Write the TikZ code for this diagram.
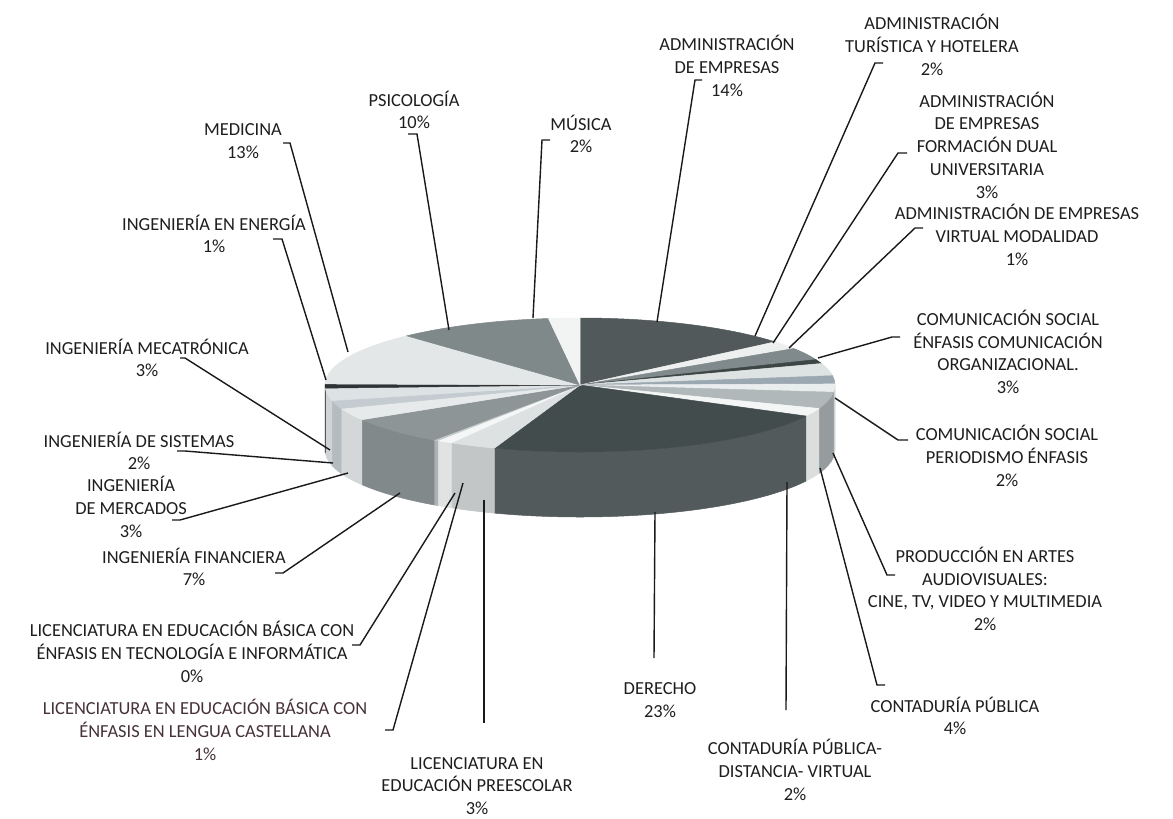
\documentclass[tikz,border=0pt]{standalone}
\usepackage{fontspec}
\setmainfont{Carlito}
\definecolor{txt}{HTML}{1E1E1E}
\definecolor{lenTxt}{HTML}{463238}
\definecolor{admE}{HTML}{51595B}
\definecolor{admT}{HTML}{EEF0F0}
\definecolor{dual}{HTML}{808A8C}
\definecolor{virt}{HTML}{3D4545}
\definecolor{corg}{HTML}{DDE2E2}
\definecolor{cper}{HTML}{9BA7B1}
\definecolor{prod}{HTML}{E9EDED}
\definecolor{cont}{HTML}{B0B8BA}
\definecolor{cdis}{HTML}{F4F6F6}
\definecolor{der}{HTML}{434C4D}
\definecolor{pre}{HTML}{DDE1E1}
\definecolor{len}{HTML}{F5F7F7}
\definecolor{tec}{HTML}{C5CBCB}
\definecolor{fin}{HTML}{8D9596}
\definecolor{mer}{HTML}{E6EAEA}
\definecolor{sis}{HTML}{C4CCD2}
\definecolor{mec}{HTML}{DDE2E4}
\definecolor{ene}{HTML}{2F3333}
\definecolor{med}{HTML}{E3E7E7}
\definecolor{psi}{HTML}{7F898A}
\definecolor{mus}{HTML}{F2F4F4}
\tikzstyle{lbl} = [align=center, inner sep=0pt, text=txt, font=\fontsize{18.4}{22.7}\selectfont]
\tikzstyle{leader} = [line width=1.4pt, draw=black!90]
\tikzstyle{slice} = [draw=white, line width=0.5pt]
\tikzstyle{wall} = [draw=white, line width=0.5pt]

\begin{document}
\begin{tikzpicture}[x=1pt, y=-1pt]
\useasboundingbox (0,0) rectangle (1173,819);
\fill[white] (0,0) rectangle (1173,819);

% front walls
\fill[wall, prod!88!black] (580,385) ++(0:255 and 67) arc[start angle=0, end angle=6.2, x radius=255, y radius=67] -- ++(0,65) arc[start angle=6.2, end angle=0, x radius=255, y radius=67] -- cycle;
\fill[wall, cont!85!black] (580,385) ++(6.2:255 and 67) arc[start angle=6.2, end angle=20.5, x radius=255, y radius=67] -- ++(0,65) arc[start angle=20.5, end angle=6.2, x radius=255, y radius=67] -- cycle;
\fill[wall, cdis!90!black] (580,385) ++(20.5:255 and 67) arc[start angle=20.5, end angle=27.6, x radius=255, y radius=67] -- ++(0,65) arc[start angle=27.6, end angle=20.5, x radius=255, y radius=67] -- cycle;
\fill[wall, der!92!white] (580,385) ++(27.6:255 and 67) arc[start angle=27.6, end angle=109.6, x radius=255, y radius=67] -- ++(0,65) arc[start angle=109.6, end angle=27.6, x radius=255, y radius=67] -- cycle;
\fill[wall, pre!88!black] (580,385) ++(109.6:255 and 67) arc[start angle=109.6, end angle=120.3, x radius=255, y radius=67] -- ++(0,65) arc[start angle=120.3, end angle=109.6, x radius=255, y radius=67] -- cycle;
\fill[wall, len!92!black] (580,385) ++(120.3:255 and 67) arc[start angle=120.3, end angle=123.9, x radius=255, y radius=67] -- ++(0,65) arc[start angle=123.9, end angle=120.3, x radius=255, y radius=67] -- cycle;
\fill[wall, tec!88!black] (580,385) ++(123.9:255 and 67) arc[start angle=123.9, end angle=124.9, x radius=255, y radius=67] -- ++(0,65) arc[start angle=124.9, end angle=123.9, x radius=255, y radius=67] -- cycle;
\fill[wall, fin!92!black] (580,385) ++(124.9:255 and 67) arc[start angle=124.9, end angle=148.8, x radius=255, y radius=67] -- ++(0,65) arc[start angle=148.8, end angle=124.9, x radius=255, y radius=67] -- cycle;
\fill[wall, mer!92!black] (580,385) ++(148.8:255 and 67) arc[start angle=148.8, end angle=159.5, x radius=255, y radius=67] -- ++(0,65) arc[start angle=159.5, end angle=148.8, x radius=255, y radius=67] -- cycle;
\fill[wall, sis!92!black] (580,385) ++(159.5:255 and 67) arc[start angle=159.5, end angle=166.6, x radius=255, y radius=67] -- ++(0,65) arc[start angle=166.6, end angle=159.5, x radius=255, y radius=67] -- cycle;
\fill[wall, mec!94!black] (580,385) ++(166.6:255 and 67) arc[start angle=166.6, end angle=177.3, x radius=255, y radius=67] -- ++(0,65) arc[start angle=177.3, end angle=166.6, x radius=255, y radius=67] -- cycle;
\fill[wall, ene] (580,385) ++(177.3:255 and 67) arc[start angle=177.3, end angle=180, x radius=255, y radius=67] -- ++(0,65) arc[start angle=180, end angle=177.3, x radius=255, y radius=67] -- cycle;

% top of the pie, clockwise from twelve o'clock
\fill[slice, admE] (580,385) -- ++(-90:255 and 67) arc[start angle=-90, end angle=-40.1, x radius=255, y radius=67] -- cycle;
\fill[slice, admT] (580,385) -- ++(-40.1:255 and 67) arc[start angle=-40.1, end angle=-33, x radius=255, y radius=67] -- cycle;
\fill[slice, dual] (580,385) -- ++(-33:255 and 67) arc[start angle=-33, end angle=-22.3, x radius=255, y radius=67] -- cycle;
\fill[slice, virt] (580,385) -- ++(-22.3:255 and 67) arc[start angle=-22.3, end angle=-18.7, x radius=255, y radius=67] -- cycle;
\fill[slice, corg] (580,385) -- ++(-18.7:255 and 67) arc[start angle=-18.7, end angle=-8, x radius=255, y radius=67] -- cycle;
\fill[slice, cper] (580,385) -- ++(-8:255 and 67) arc[start angle=-8, end angle=-0.9, x radius=255, y radius=67] -- cycle;
\fill[slice, prod] (580,385) -- ++(-0.9:255 and 67) arc[start angle=-0.9, end angle=6.2, x radius=255, y radius=67] -- cycle;
\fill[slice, cont] (580,385) -- ++(6.2:255 and 67) arc[start angle=6.2, end angle=20.5, x radius=255, y radius=67] -- cycle;
\fill[slice, cdis] (580,385) -- ++(20.5:255 and 67) arc[start angle=20.5, end angle=27.6, x radius=255, y radius=67] -- cycle;
\fill[slice, der] (580,385) -- ++(27.6:255 and 67) arc[start angle=27.6, end angle=109.6, x radius=255, y radius=67] -- cycle;
\fill[slice, pre] (580,385) -- ++(109.6:255 and 67) arc[start angle=109.6, end angle=120.3, x radius=255, y radius=67] -- cycle;
\fill[slice, len] (580,385) -- ++(120.3:255 and 67) arc[start angle=120.3, end angle=123.9, x radius=255, y radius=67] -- cycle;
\fill[slice, tec] (580,385) -- ++(123.9:255 and 67) arc[start angle=123.9, end angle=124.9, x radius=255, y radius=67] -- cycle;
\fill[slice, fin] (580,385) -- ++(124.9:255 and 67) arc[start angle=124.9, end angle=148.8, x radius=255, y radius=67] -- cycle;
\fill[slice, mer] (580,385) -- ++(148.8:255 and 67) arc[start angle=148.8, end angle=159.5, x radius=255, y radius=67] -- cycle;
\fill[slice, sis] (580,385) -- ++(159.5:255 and 67) arc[start angle=159.5, end angle=166.6, x radius=255, y radius=67] -- cycle;
\fill[slice, mec] (580,385) -- ++(166.6:255 and 67) arc[start angle=166.6, end angle=177.3, x radius=255, y radius=67] -- cycle;
\fill[slice, ene] (580,385) -- ++(177.3:255 and 67) arc[start angle=177.3, end angle=180.9, x radius=255, y radius=67] -- cycle;
\fill[slice, med] (580,385) -- ++(180.9:255 and 67) arc[start angle=180.9, end angle=227.2, x radius=255, y radius=67] -- cycle;
\fill[slice, psi] (580,385) -- ++(227.2:255 and 67) arc[start angle=227.2, end angle=262.9, x radius=255, y radius=67] -- cycle;
\fill[slice, mus] (580,385) -- ++(262.9:255 and 67) arc[start angle=262.9, end angle=270, x radius=255, y radius=67] -- cycle;

% labels
\node (admE) [lbl] at (727,66) {ADMINISTRACIÓN\\DE EMPRESAS\\14\%};
\node (admT) [lbl] at (932,45) {ADMINISTRACIÓN\\TURÍSTICA Y HOTELERA\\2\%};
\node (dual) [lbl] at (987,145) {ADMINISTRACIÓN\\DE EMPRESAS\\FORMACIÓN DUAL\\UNIVERSITARIA\\3\%};
\node (virt) [lbl] at (1017,235) {ADMINISTRACIÓN DE EMPRESAS\\VIRTUAL MODALIDAD\\1\%};
\node (corg) [lbl] at (1008,352) {COMUNICACIÓN SOCIAL\\ÉNFASIS COMUNICACIÓN\\ORGANIZACIONAL.\\3\%};
\node (cper) [lbl] at (1007,456) {COMUNICACIÓN SOCIAL\\PERIODISMO ÉNFASIS\\2\%};
\node (prod) [lbl] at (985,589) {PRODUCCIÓN EN ARTES\\AUDIOVISUALES:\\CINE, TV, VIDEO Y MULTIMEDIA\\2\%};
\node (cont) [lbl] at (955,716) {CONTADURÍA PÚBLICA\\4\%};
\node (cdis) [lbl] at (795,770) {CONTADURÍA PÚBLICA-\\DISTANCIA- VIRTUAL\\2\%};
\node (der) [lbl] at (660,700) {DERECHO\\23\%};
\node (pre) [lbl] at (477,786) {LICENCIATURA EN\\EDUCACIÓN PREESCOLAR\\3\%};
\node (len) [lbl, text=lenTxt] at (205,730) {LICENCIATURA EN EDUCACIÓN BÁSICA CON\\ÉNFASIS EN LENGUA CASTELLANA\\1\%};
\node (tec) [lbl] at (192,652) {LICENCIATURA EN EDUCACIÓN BÁSICA CON\\ÉNFASIS EN TECNOLOGÍA E INFORMÁTICA\\0\%};
\node (fin) [lbl] at (194,567) {INGENIERÍA FINANCIERA\\7\%};
\node (mer) [lbl] at (131,507) {INGENIERÍA\\DE MERCADOS\\3\%};
\node (sis) [lbl] at (139,451) {INGENIERÍA DE SISTEMAS\\2\%};
\node (mec) [lbl] at (147,358) {INGENIERÍA MECATRÓNICA\\3\%};
\node (ene) [lbl] at (214,234) {INGENIERÍA EN ENERGÍA\\1\%};
\node (med) [lbl] at (243,141) {MEDICINA\\13\%};
\node (psi) [lbl] at (414,110) {PSICOLOGÍA\\10\%};
\node (mus) [lbl] at (581,134) {MÚSICA\\2\%};

% leader ends
\coordinate (admEA) at (702,80);   \coordinate (admEP) at (657,322);
\coordinate (admTA) at (883,63);   \coordinate (admTP) at (755,336);
\coordinate (dualA) at (907,153);  \coordinate (dualP) at (773,343);
\coordinate (virtA) at (923,228);  \coordinate (virtP) at (789,348);
\coordinate (corgA) at (900,337);  \coordinate (corgP) at (818,358);
\coordinate (cperA) at (898,440);  \coordinate (cperP) at (835,398);
\coordinate (prodA) at (887,575);  \coordinate (prodP) at (833,453);
\coordinate (contA) at (877,685);  \coordinate (contP) at (820,468);
\coordinate (cdisA) at (786,710);  \coordinate (cdisP) at (787,482);
\coordinate (derA) at (654,658);   \coordinate (derP) at (655,512);
\coordinate (preA) at (484,723);   \coordinate (preP) at (484,500);
\coordinate (lenA) at (385,730);   \coordinate (lenP) at (463,483);
\coordinate (tecA) at (352,645);   \coordinate (tecP) at (455,493);
\coordinate (finA) at (275,573);   \coordinate (finP) at (400,493);
\coordinate (merA) at (172,520);   \coordinate (merP) at (348,473);
\coordinate (sisA) at (177,451);   \coordinate (sisP) at (333,463);
\coordinate (mecA) at (180,358);   \coordinate (mecP) at (330,450);
\coordinate (eneA) at (273,239);   \coordinate (eneP) at (326,380);
\coordinate (medA) at (283,143);   \coordinate (medP) at (348,352);
\coordinate (psiA) at (408,134);   \coordinate (psiP) at (449,330);
\coordinate (musA) at (550,140);   \coordinate (musP) at (533,318);

\draw[leader] (admEA) -- ++(-7,0) -- (admEP);
\draw[leader] (admTA) -- ++(-8,0) -- (admTP);
\draw[leader] (dualA) -- ++(-9,0) -- (dualP);
\draw[leader] (virtA) -- ++(-8,0) -- (virtP);
\draw[leader] (corgA) -- ++(-8,0) -- (corgP);
\draw[leader] (cperP) -- (cperA) -- ++(10,0);
\draw[leader] (prodP) -- (prodA) -- ++(8,0);
\draw[leader] (contP) -- (contA) -- ++(8,0);
\draw[leader] (cdisP) -- (cdisA);
\draw[leader] (derP) -- (derA);
\draw[leader] (preP) -- (preA);
\draw[leader] (lenA) -- ++(8,0) -- (lenP);
\draw[leader] (tecA) -- ++(8,0) -- (tecP);
\draw[leader] (finA) -- ++(8,0) -- (finP);
\draw[leader] (merA) -- ++(8,0) -- (merP);
\draw[leader] (sisA) -- ++(8,0) -- (sisP);
\draw[leader] (mecA) -- ++(5,0) -- (mecP);
\draw[leader] (eneA) -- ++(9,0) -- (eneP);
\draw[leader] (medA) -- ++(7,0) -- (medP);
\draw[leader] (psiA) -- ++(9,0) -- (psiP);
\draw[leader] (musA) -- ++(-8,0) -- (musP);
\end{tikzpicture}
\end{document}
